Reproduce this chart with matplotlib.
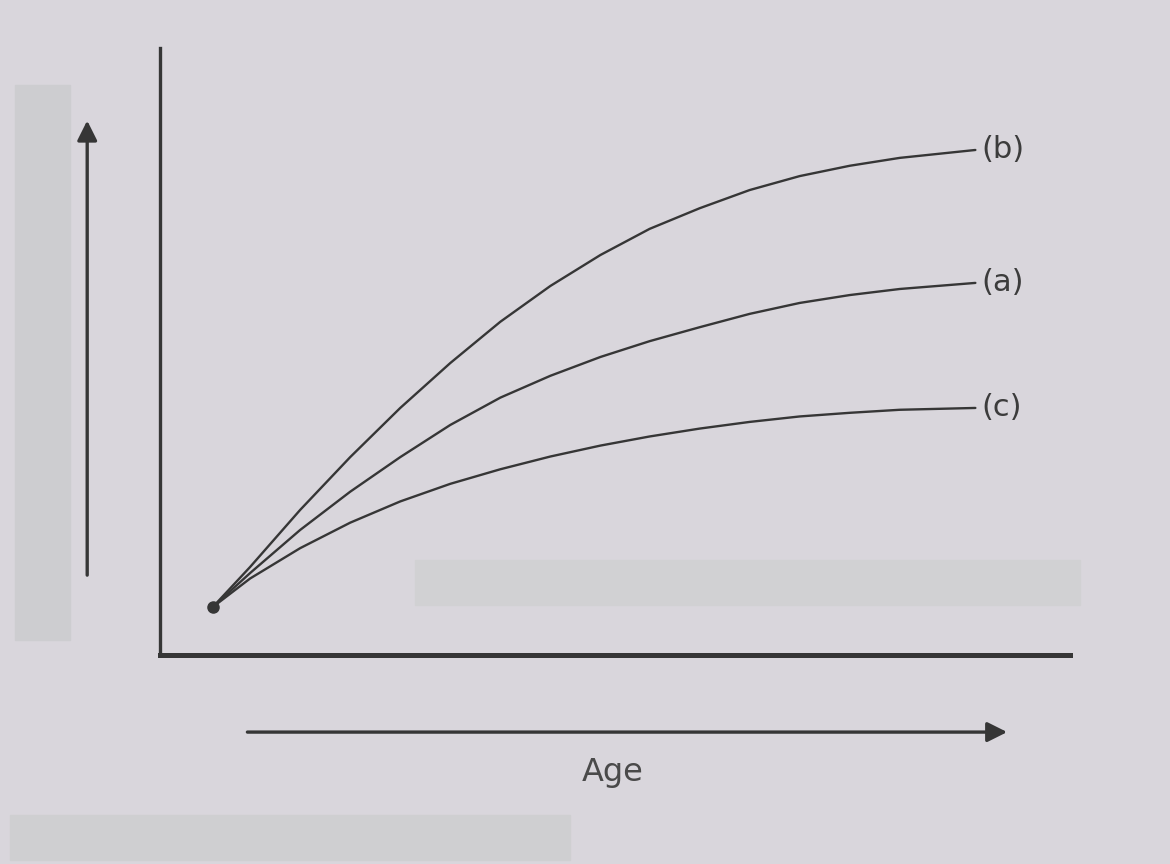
import matplotlib
matplotlib.use("Agg")
import matplotlib.pyplot as plt
from matplotlib.patches import Rectangle

# values, common age positions for the three curves
age = [0.58, 0.99, 1.54, 2.09, 2.64, 3.19, 3.74, 4.29, 4.84, 5.38, 5.93, 6.48,
       7.03, 7.58, 8.13, 8.96]
val_b = [0.79, 1.45, 2.39, 3.26, 4.07, 4.81, 5.49, 6.08, 6.59, 7.02, 7.36, 7.66,
         7.89, 8.06, 8.19, 8.32]
val_a = [0.79, 1.35, 2.06, 2.69, 3.26, 3.79, 4.24, 4.60, 4.91, 5.17, 5.40, 5.62,
         5.80, 5.93, 6.03, 6.13]
val_c = [0.79, 1.26, 1.76, 2.18, 2.53, 2.82, 3.06, 3.27, 3.45, 3.60, 3.73, 3.84,
         3.93, 3.99, 4.04, 4.07]

labels = ["(b)", "(a)", "(c)"]
x_label = "Age"

ink = "#363636"
paper = "#d9d6dc"

fig = plt.figure(figsize=(11.7, 8.64), dpi=100)
fig.patch.set_facecolor(paper)

# scan shading bands
fig.patches.append(Rectangle((15 / 1170, 1 - 640 / 864), 55 / 1170, 555 / 864,
                             transform=fig.transFigure, color="#cdcdd0", zorder=0))
fig.patches.append(Rectangle((10 / 1170, 0.005), 560 / 1170, 45 / 864,
                             transform=fig.transFigure, color="#cfcfd1", zorder=0))
fig.patches.append(Rectangle((415 / 1170, 1 - 605 / 864), 665 / 1170, 45 / 864,
                             transform=fig.transFigure, color="#d1d1d3", zorder=0))

ax = fig.add_axes([160 / 1170, 1 - 655 / 864, 910 / 1170, 607 / 864])
ax.set_facecolor("none")
ax.set_xlim(0, 10)
ax.set_ylim(0, 10)

for ys, lab in zip([val_b, val_a, val_c], labels):
    ax.plot(age, ys, color=ink, lw=1.7, solid_capstyle="round",
            solid_joinstyle="round")
    ax.text(age[-1] + 0.07, ys[-1], lab, fontsize=22, color="#3c3c3c",
            ha="left", va="center", clip_on=False)

ax.plot([age[0]], [val_b[0]], "o", color=ink, ms=8)

for side in ["top", "right"]:
    ax.spines[side].set_visible(False)
ax.spines["left"].set_linewidth(2.4)
ax.spines["bottom"].set_linewidth(3.6)
ax.spines["left"].set_color(ink)
ax.spines["bottom"].set_color(ink)
ax.set_xticks([])
ax.set_yticks([])

# direction arrows
ax.annotate("", xy=(-0.8, 8.85), xytext=(-0.8, 1.27), annotation_clip=False,
            arrowprops=dict(arrowstyle="-|>", mutation_scale=30, lw=2.4, color=ink))
ax.annotate("", xy=(9.34, -1.27), xytext=(0.93, -1.27), annotation_clip=False,
            arrowprops=dict(arrowstyle="-|>", mutation_scale=30, lw=2.4, color=ink))
ax.text(4.97, -1.93, x_label, fontsize=23, color="#4a4a4a", ha="center", va="center",
        clip_on=False)

fig.savefig("out.png", dpi=100, facecolor=fig.get_facecolor())
